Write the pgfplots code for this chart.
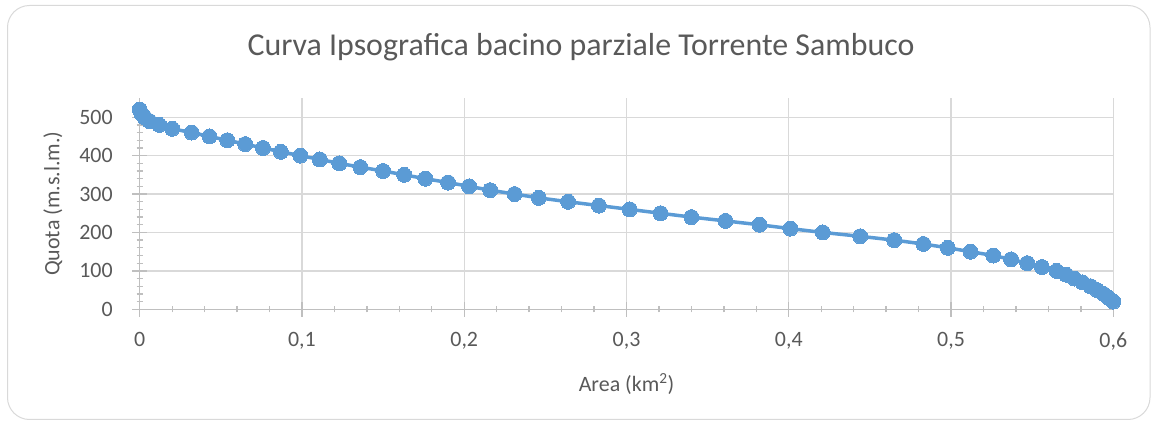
\documentclass[border=0pt]{standalone}
\usepackage{pgfplots}
\pgfplotsset{compat=1.18}
\usepackage{fontspec}
\setmainfont{Carlito}
\definecolor{serie}{HTML}{5B9BD5}
\definecolor{gridc}{HTML}{D9D9D9}
\definecolor{axc}{HTML}{BFBFBF}
\definecolor{txt}{HTML}{595959}
\begin{document}
\begin{tikzpicture}
\useasboundingbox (0bp,0bp) rectangle (1154bp,424bp);
\draw[gridc, line width=1bp, rounded corners=22bp] (7.5bp,4.5bp) rectangle (1150bp,418.5bp);
\node[txt, font=\fontsize{32}{36}\selectfont] at (581bp,377bp) {Curva Ipsografica bacino parziale Torrente Sambuco};
\begin{scope}[shift={(139.7bp,114.7bp)}]
\begin{axis}[
  at={(0bp,0bp)}, anchor=south west,
  scale only axis, width=973.6bp, height=211.3bp,
  xmin=0, xmax=0.6, ymin=0, ymax=550,
  xtick={0,0.1,...,0.6}, ytick={0,100,...,500},
  minor x tick num=4, minor y tick num=4,
  axis x line*=bottom, axis y line*=left,
  axis line style={axc, line width=1.3bp},
  tick align=center,
  major tick length=15bp, minor tick length=6bp,
  every tick/.style={axc, line width=1.3bp},
  major grid style={gridc, line width=1.3bp},
  xmajorgrids, ymajorgrids,
  clip=false,
  /pgf/number format/assume math mode=true,
  /pgf/number format/use comma,
  /pgf/number format/fixed,
  tick label style={txt, font=\fontsize{22}{25}\selectfont},
  xticklabel style={yshift=-12bp},
  yticklabel style={xshift=-16bp},
  xlabel={Area (km\textsuperscript{2})},
  ylabel={Quota (m.s.l.m.)},
  label style={txt, font=\fontsize{22}{25}\selectfont},
  xlabel style={yshift=-17bp},
  ylabel style={yshift=10bp},
]
\addplot[serie, line width=3.5bp, mark=*, mark size=7.5bp, mark options={fill=serie, draw=serie, line width=0pt}] coordinates {
(0.000,520) (0.001,510) (0.003,500) (0.006,490) (0.012,480) (0.020,470)
(0.032,460) (0.043,450) (0.054,440) (0.065,430) (0.076,420) (0.087,410)
(0.099,400) (0.111,390) (0.123,380) (0.136,370) (0.150,360) (0.163,350)
(0.176,340) (0.190,330) (0.203,320) (0.216,310) (0.231,300) (0.246,290)
(0.264,280) (0.283,270) (0.302,260) (0.321,250) (0.340,240) (0.361,230)
(0.382,220) (0.401,210) (0.421,200) (0.444,190) (0.465,180) (0.483,170)
(0.498,160) (0.512,150) (0.526,140) (0.537,130) (0.547,120) (0.556,110)
(0.565,100) (0.571,90) (0.576,80) (0.581,70) (0.586,60) (0.590,50)
(0.594,40) (0.597,30) (0.600,20)
};
\end{axis}
\end{scope}
\end{tikzpicture}
\end{document}
